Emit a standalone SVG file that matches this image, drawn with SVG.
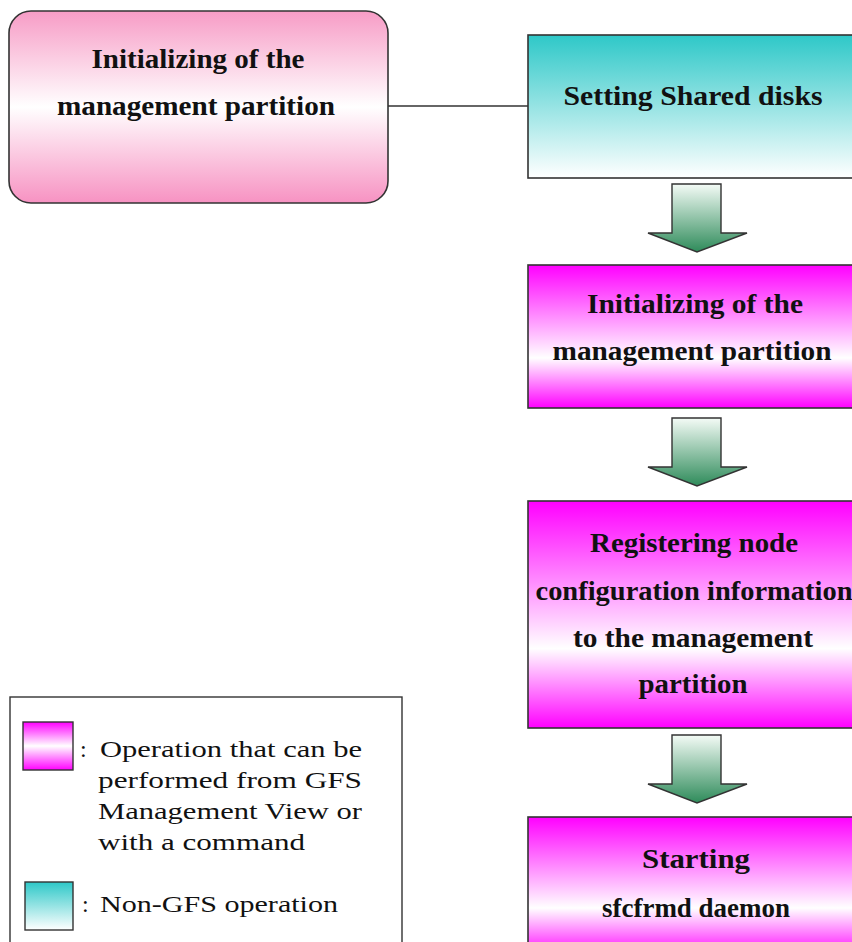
<svg xmlns="http://www.w3.org/2000/svg" width="852" height="942" viewBox="0 0 852 942">
<defs>
<linearGradient id="gPink" x1="0" y1="0" x2="0" y2="1">
<stop offset="0" stop-color="#f79cc6"/>
<stop offset="0.5" stop-color="#ffffff"/>
<stop offset="1" stop-color="#f792c2"/>
</linearGradient>
<linearGradient id="gMag" x1="0" y1="0" x2="0" y2="1">
<stop offset="0" stop-color="#ff00ff"/>
<stop offset="0.65" stop-color="#ffffff"/>
<stop offset="1" stop-color="#ff00ff"/>
</linearGradient>
<linearGradient id="gTeal" x1="0" y1="0" x2="0" y2="1">
<stop offset="0" stop-color="#2ec8c8"/>
<stop offset="1" stop-color="#ffffff"/>
</linearGradient>
<linearGradient id="gArrow" x1="0" y1="0" x2="0" y2="1">
<stop offset="0" stop-color="#f4fbf6"/>
<stop offset="1" stop-color="#2e8b5a"/>
</linearGradient>
<linearGradient id="gLegMag" x1="0" y1="0" x2="0" y2="1">
<stop offset="0" stop-color="#ff00ff"/>
<stop offset="0.5" stop-color="#ffffff"/>
<stop offset="1" stop-color="#ff00ff"/>
</linearGradient>
</defs>
<style>
.box{stroke:#333;stroke-width:1.6}
.t{font-family:"Liberation Serif","DejaVu Serif",serif;font-weight:bold;font-size:27px;fill:#111;text-anchor:middle}
.lt{font-family:"Liberation Serif","DejaVu Serif",serif;font-size:24px;fill:#111}
.arrow{fill:url(#gArrow);stroke:#333;stroke-width:1.4}
</style>
<rect width="852" height="942" fill="#ffffff"/>
<g id="connectors">
<line x1="388" y1="106" x2="528" y2="106" stroke="#333" stroke-width="1.6"/>
<path class="arrow" d="M672,184 H721 V233 H747 L697,252 L648,233 H672 Z"/>
<path class="arrow" d="M672,418 H721 V467 H747 L697,486 L648,467 H672 Z"/>
<path class="arrow" d="M672,735 H721 V784 H747 L697,803 L648,784 H672 Z"/>
</g>
<g id="node-init-left">
<rect class="box" x="9" y="11" width="379" height="192" rx="22" fill="url(#gPink)"/>
<text class="t" x="198" y="68" textLength="213" lengthAdjust="spacingAndGlyphs">Initializing of the</text>
<text class="t" x="196" y="115" textLength="278" lengthAdjust="spacingAndGlyphs">management partition</text>
</g>
<g id="node-shared-disks">
<rect class="box" x="528" y="35" width="336" height="143" fill="url(#gTeal)"/>
<text class="t" x="693" y="105" textLength="259" lengthAdjust="spacingAndGlyphs">Setting Shared disks</text>
</g>
<g id="node-init-right">
<rect class="box" x="528" y="265" width="336" height="143" fill="url(#gMag)"/>
<text class="t" x="695" y="313" textLength="216" lengthAdjust="spacingAndGlyphs">Initializing of the</text>
<text class="t" x="692" y="360" textLength="279" lengthAdjust="spacingAndGlyphs">management partition</text>
</g>
<g id="node-register">
<rect class="box" x="528" y="501" width="336" height="227" fill="url(#gMag)"/>
<text class="t" x="694" y="552" textLength="208" lengthAdjust="spacingAndGlyphs">Registering node</text>
<text class="t" x="694" y="600" textLength="317" lengthAdjust="spacingAndGlyphs">configuration information</text>
<text class="t" x="693" y="647" textLength="240" lengthAdjust="spacingAndGlyphs">to the management</text>
<text class="t" x="693" y="693" textLength="109" lengthAdjust="spacingAndGlyphs">partition</text>
</g>
<g id="node-start">
<rect class="box" x="528" y="817" width="336" height="140" fill="url(#gMag)"/>
<text class="t" x="696" y="868" textLength="108" lengthAdjust="spacingAndGlyphs">Starting</text>
<text class="t" x="696" y="917" textLength="188" lengthAdjust="spacingAndGlyphs">sfcfrmd daemon</text>
</g>
<g id="legend">
<rect x="10" y="697" width="392" height="260" fill="#ffffff" stroke="#333" stroke-width="1.4"/>
<rect x="23" y="722" width="50" height="48" fill="url(#gLegMag)" stroke="#333" stroke-width="1.4"/>
<text class="lt" y="757"><tspan x="80">:</tspan><tspan x="100" textLength="262" lengthAdjust="spacingAndGlyphs">Operation that can be</tspan></text>
<text class="lt" x="98" y="788" textLength="264" lengthAdjust="spacingAndGlyphs">performed from GFS</text>
<text class="lt" x="98" y="819" textLength="264" lengthAdjust="spacingAndGlyphs">Management View or</text>
<text class="lt" x="98" y="850" textLength="207" lengthAdjust="spacingAndGlyphs">with a command</text>
<rect x="25" y="882" width="48" height="48" fill="url(#gTeal)" stroke="#333" stroke-width="1.4"/>
<text class="lt" y="912"><tspan x="82">:</tspan><tspan x="100" textLength="238" lengthAdjust="spacingAndGlyphs">Non-GFS operation</tspan></text>
</g>
</svg>
